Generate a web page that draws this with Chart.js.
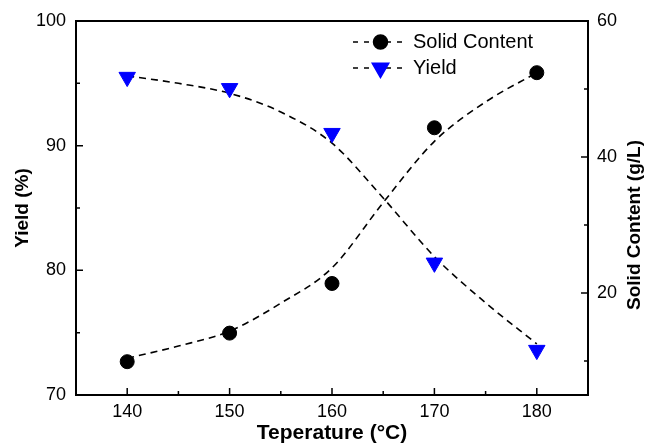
<!DOCTYPE html>
<html>
<head>
<meta charset="utf-8">
<script src="https://cdn.jsdelivr.net/npm/chart.js@4/dist/chart.umd.min.js"></script>
<style>
  html, body { margin: 0; padding: 0; background: #fff; }
  #wrap { width: 649px; height: 444px; }
</style>
</head>
<body>
<div id="wrap"><canvas id="tempChart"></canvas></div>
<script>
// Measured points
const temps = [140, 150, 160, 170, 180];
const yieldVals = [95.5, 94.6, 91.0, 80.6, 73.6];
const solidVals = [9.9, 14.1, 21.4, 44.3, 52.4];

// Dashed fit curves
const fitTemps = [140, 145, 150, 155, 160, 165, 170, 175, 180];
const yieldFit = [95.6, 95.0, 94.2, 92.7, 90.2, 85.8, 81.1, 77.4, 74.1];
const solidFit = [10.4, 12.2, 14.4, 18.5, 23.7, 33.3, 42.3, 48.1, 52.4];

// Tick labels
const xTicks = [140, 150, 160, 170, 180];
const yTicks = [70, 80, 90, 100];
const y1Ticks = [20, 40, 60];

const FONT = '"Liberation Sans", Arial, sans-serif';

function pts(xs, ys) {
    return xs.map((x, i) => ({ x: x, y: ys[i] }));
}

function fixTicks(values) {
    return function(scale) {
        scale.ticks = values.map(v => ({ value: v }));
    };
}

// Frame, inward ticks, legend and right title
const decorPlugin = {
    id: 'decor',
    afterDatasetsDraw(chart) {
        const ctx = chart.ctx;
        const a = chart.chartArea;
        const sx = chart.scales.x, sy = chart.scales.y, sy1 = chart.scales.y1;
        ctx.save();
        ctx.strokeStyle = '#000';
        ctx.lineWidth = 2;
        ctx.strokeRect(a.left, a.top, a.right - a.left, a.bottom - a.top);

        ctx.beginPath();
        for (let v = 140; v <= 180; v += 5) {
            const px = sx.getPixelForValue(v);
            const len = v % 10 === 0 ? 7 : 4;
            ctx.moveTo(px, a.bottom);
            ctx.lineTo(px, a.bottom - len);
        }
        for (let v = 75; v < 100; v += 5) {
            const py = sy.getPixelForValue(v);
            const len = v % 10 === 0 ? 7 : 4;
            ctx.moveTo(a.left, py);
            ctx.lineTo(a.left + len, py);
        }
        for (let v = 10; v < 60; v += 10) {
            const py = sy1.getPixelForValue(v);
            const len = v % 20 === 0 ? 7 : 4;
            ctx.moveTo(a.right, py);
            ctx.lineTo(a.right - len, py);
        }
        ctx.lineWidth = 1.5;
        ctx.stroke();

        // legend
        const rows = [
            { label: 'Solid Content', style: 'circle', color: '#000', r: 7, y: a.top + 21 },
            { label: 'Yield', style: 'triangle', color: '#0000ff', r: 9.5, y: a.top + 47 }
        ];
        rows.forEach(row => {
            const x0 = a.right - 235, x1 = a.right - 180;
            ctx.beginPath();
            ctx.setLineDash([5, 6]);
            ctx.lineWidth = 1.5;
            ctx.strokeStyle = '#000';
            ctx.moveTo(x0, row.y);
            ctx.lineTo(x1, row.y);
            ctx.stroke();
            ctx.setLineDash([]);
            ctx.fillStyle = row.color;
            ctx.strokeStyle = row.color;
            Chart.helpers.drawPoint(ctx, {
                pointStyle: row.style, radius: row.r, rotation: row.style === 'triangle' ? 180 : 0, borderWidth: 1
            }, (x0 + x1) / 2, row.y);
            ctx.fillStyle = '#000';
            ctx.font = '20px ' + FONT;
            ctx.textAlign = 'left';
            ctx.textBaseline = 'middle';
            ctx.fillText(row.label, a.right - 175, row.y);
        });

        // right axis title reads bottom-to-top
        ctx.translate(635, 225);
        ctx.rotate(-Math.PI / 2);
        ctx.font = 'bold 19px ' + FONT;
        ctx.textAlign = 'center';
        ctx.textBaseline = 'middle';
        ctx.fillStyle = '#000';
        ctx.fillText('Solid Content (g/L)', 0, 0);
        ctx.restore();
    }
};

const ctx = document.getElementById('tempChart').getContext('2d');
const chart = new Chart(ctx, {
    type: 'scatter',
    data: {
        datasets: [
            {
                label: 'Solid Content',
                data: pts(temps, solidVals),
                yAxisID: 'y1',
                showLine: false,
                pointStyle: 'circle',
                pointRadius: 7,
                backgroundColor: '#000',
                borderColor: '#000',
                borderWidth: 1,
                order: 0
            },
            {
                label: 'Yield',
                data: pts(temps, yieldVals),
                yAxisID: 'y',
                showLine: false,
                pointStyle: 'triangle',
                rotation: 180,
                pointRadius: 9.5,
                backgroundColor: '#0000ff',
                borderColor: '#0000ff',
                borderWidth: 1,
                order: 0
            },
            {
                label: 'Solid fit',
                data: pts(fitTemps, solidFit),
                yAxisID: 'y1',
                showLine: true,
                pointRadius: 0,
                borderColor: '#000',
                borderWidth: 1.6,
                borderDash: [7, 5],
                cubicInterpolationMode: 'monotone',
                order: 1
            },
            {
                label: 'Yield fit',
                data: pts(fitTemps, yieldFit),
                yAxisID: 'y',
                showLine: true,
                pointRadius: 0,
                borderColor: '#000',
                borderWidth: 1.6,
                borderDash: [7, 5],
                cubicInterpolationMode: 'monotone',
                order: 1
            }
        ]
    },
    options: {
        responsive: true,
        maintainAspectRatio: false,
        animation: false,
        layout: { padding: { top: 21, left: 0, right: 0, bottom: 0 } },
        plugins: {
            legend: { display: false },
            tooltip: { enabled: false }
        },
        scales: {
            x: {
                type: 'linear',
                position: 'bottom',
                min: 135,
                max: 185,
                afterBuildTicks: fixTicks(xTicks),
                afterFit: function(scale) { scale.height = 49; },
                grid: { display: false, drawTicks: false },
                border: { display: false },
                ticks: { color: '#000', padding: 6, font: { family: FONT, size: 18 } },
                title: {
                    display: true,
                    text: 'Teperature (°C)',
                    color: '#000',
                    padding: { top: 0, bottom: 0 },
                    font: { family: FONT, size: 21, weight: 'bold', lineHeight: 1.05 }
                }
            },
            y: {
                type: 'linear',
                position: 'left',
                min: 70,
                max: 100,
                afterBuildTicks: fixTicks(yTicks),
                afterFit: function(scale) { scale.width = 76; },
                grid: { display: false, drawTicks: false },
                border: { display: false },
                ticks: { color: '#000', padding: 10, font: { family: FONT, size: 18 } },
                title: {
                    display: true,
                    text: 'Yield (%)',
                    color: '#000',
                    padding: { top: 11, bottom: 0 },
                    font: { family: FONT, size: 19, weight: 'bold', lineHeight: 1.2 }
                }
            },
            y1: {
                type: 'linear',
                position: 'right',
                min: 5,
                max: 60,
                afterBuildTicks: fixTicks(y1Ticks),
                afterFit: function(scale) { scale.width = 61; },
                grid: { display: false, drawTicks: false },
                border: { display: false },
                ticks: { color: '#000', padding: 9, font: { family: FONT, size: 18 } }
            }
        }
    },
    plugins: [decorPlugin]
});
</script>
</body>
</html>
